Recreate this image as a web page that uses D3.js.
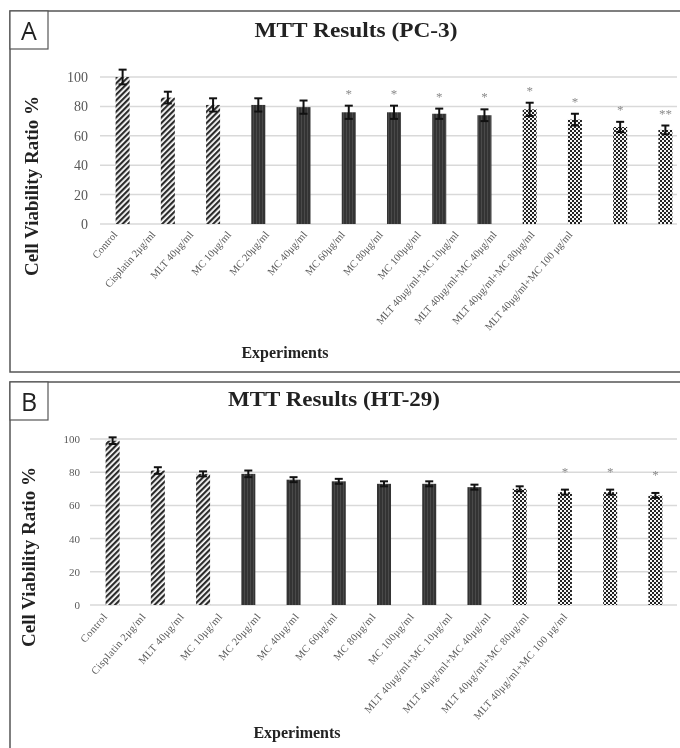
<!DOCTYPE html>
<html><head><meta charset="utf-8">
<script src="https://cdn.jsdelivr.net/npm/d3@7"></script>
<style>
body{margin:0;background:#fff;}
svg{display:block;will-change:transform;}
</style></head>
<body>
<svg id="chart" width="680" height="748"></svg>
<script>
// ---------- data ----------
const categoriesA = ["Control","Cisplatin 2μg/ml","MLT 40μg/ml","MC 10μg/ml","MC 20μg/ml","MC 40μg/ml","MC 60μg/ml","MC 80μg/ml","MC 100μg/ml","MLT 40μg/ml+MC 10μg/ml","MLT 40μg/ml+MC 40μg/ml","MLT 40μg/ml+MC 80μg/ml","MLT 40μg/ml+MC 100 μg/ml"];
const valuesA = [100, 86, 81, 81, 79.5, 76, 76, 75, 74, 78, 71, 66, 64];
const errorsA = [5, 4, 4.5, 4.5, 4.5, 4.5, 4.5, 3.5, 4, 4.5, 4, 3.5, 3];
const starsA = ["", "", "", "", "", "*", "*", "*", "*", "*", "*", "*", "**"];

const categoriesB = ["Control","Cisplatin 2μg/ml","MLT 40μg/ml","MC 10μg/ml","MC 20μg/ml","MC 40μg/ml","MC 60μg/ml","MC 80μg/ml","MC 100μg/ml","MLT 40μg/ml+MC 10μg/ml","MLT 40μg/ml+MC 40μg/ml","MLT 40μg/ml+MC 80μg/ml","MLT 40μg/ml+MC 100 μg/ml"];
const valuesB = [99, 81, 79, 79, 75.5, 74.5, 73, 73, 71, 70, 68, 68, 66];
const errorsB = [2, 2, 1.5, 2, 1.5, 1.5, 1.5, 1.5, 1.5, 1.5, 1.5, 1.5, 1.5];
const starsB = ["", "", "", "", "", "", "", "", "", "", "*", "*", "*"];

const yTicks = [0, 20, 40, 60, 80, 100];

// ---------- drawing ----------
const svg = d3.select("#chart");
const defs = svg.append("defs");

const ph = defs.append("pattern").attr("id","hatch").attr("patternUnits","userSpaceOnUse")
  .attr("width",4).attr("height",4).attr("patternTransform","rotate(45)");
ph.append("rect").attr("width",4).attr("height",4).attr("fill","#fff");
ph.append("rect").attr("width",2.2).attr("height",4).attr("fill","#2b2b2b");

const pd = defs.append("pattern").attr("id","dark").attr("patternUnits","userSpaceOnUse")
  .attr("width",3).attr("height",3);
pd.append("rect").attr("width",3).attr("height",3).attr("fill","#333");
pd.append("rect").attr("x",1).attr("width",1).attr("height",3).attr("fill","#4a4a4a");

const pc = defs.append("pattern").attr("id","check").attr("patternUnits","userSpaceOnUse")
  .attr("width",4).attr("height",4);
pc.append("rect").attr("width",4).attr("height",4).attr("fill","#f4f4f4");
pc.append("rect").attr("width",2).attr("height",2).attr("fill","#222");
pc.append("rect").attr("x",2).attr("y",2).attr("width",2).attr("height",2).attr("fill","#222");

function patternFor(i){ return i < 3 ? "url(#hatch)" : (i < 9 ? "url(#dark)" : "url(#check)"); }

function panel(cfg){
  const g = svg.append("g");
  g.append("rect").attr("x",cfg.frame[0]).attr("y",cfg.frame[1])
    .attr("width",cfg.frame[2]).attr("height",cfg.frame[3])
    .attr("fill","none").attr("stroke","#555").attr("stroke-width",1.5);
  g.append("rect").attr("x",cfg.frame[0]).attr("y",cfg.frame[1]).attr("width",38).attr("height",38)
    .attr("fill","#fff").attr("stroke","#555").attr("stroke-width",1.2);
  g.append("text").attr("x",cfg.frame[0]+19).attr("y",cfg.frame[1]+29)
    .attr("text-anchor","middle").attr("font-family","'Open Sans', 'DejaVu Sans', sans-serif")
    .attr("font-size",25).attr("fill","#222").text(cfg.letter);
  g.append("text").attr("x",cfg.titleX).attr("y",cfg.titleY).attr("text-anchor","middle")
    .attr("font-family","'Liberation Serif', serif").attr("font-weight","bold")
    .attr("font-size",20).attr("textLength",cfg.titleLen).attr("lengthAdjust","spacingAndGlyphs")
    .attr("fill","#222").text(cfg.title);

  const x = d3.scaleBand().domain(cfg.cats).range(cfg.xRange).paddingInner(0.69).paddingOuter(0.345);
  const xl = d3.scalePoint().domain(cfg.cats).range(cfg.labRange);
  const y = d3.scaleLinear().domain([0,100]).range(cfg.yRange);

  g.append("g").selectAll("line").data(yTicks).join("line")
    .attr("x1",cfg.gridX[0]).attr("x2",cfg.gridX[1])
    .attr("y1",d=>y(d)).attr("y2",d=>y(d))
    .attr("stroke","#d9d9d9").attr("stroke-width",1.5);

  const ya = g.append("g").attr("transform",`translate(${cfg.yLabelX},0)`)
    .call(d3.axisLeft(y).tickValues(yTicks).tickSize(0).tickPadding(0));
  ya.select(".domain").remove();
  ya.selectAll("text").attr("font-family","'Liberation Serif', serif")
    .attr("font-size",cfg.tickFont).attr("fill","#595959");

  g.append("g").selectAll("rect").data(cfg.vals).join("rect")
    .attr("x",(d,i)=>x(cfg.cats[i])).attr("width",x.bandwidth())
    .attr("y",d=>y(d)).attr("height",d=>y(0)-y(d))
    .attr("fill",(d,i)=>patternFor(i));

  const eb = g.append("g").attr("stroke","#111").attr("stroke-width",2);
  cfg.vals.forEach((v,i)=>{
    const cx = x(cfg.cats[i]) + x.bandwidth()/2;
    const e = cfg.errs[i];
    eb.append("line").attr("x1",cx).attr("x2",cx).attr("y1",y(v+e)).attr("y2",y(v-e));
    eb.append("line").attr("x1",cx-4).attr("x2",cx+4).attr("y1",y(v+e)).attr("y2",y(v+e));
    eb.append("line").attr("x1",cx-4).attr("x2",cx+4).attr("y1",y(v-e)).attr("y2",y(v-e));
  });

  g.append("g").selectAll("text").data(cfg.stars).join("text")
    .attr("x",(d,i)=>x(cfg.cats[i]) + x.bandwidth()/2)
    .attr("y",(d,i)=>y(cfg.vals[i]+cfg.errs[i]) - cfg.starOff)
    .attr("text-anchor","middle").attr("font-family","'Liberation Serif', serif")
    .attr("font-size",13).attr("fill","#8a8a8a").text(d=>d);

  g.append("g").selectAll("text").data(cfg.cats).join("text")
    .attr("transform",d=>`translate(${xl(d)},${y(0)+cfg.xLabOff}) rotate(-49)`)
    .attr("text-anchor","end").attr("font-family","'Liberation Serif', serif")
    .attr("font-size",cfg.xFont).attr("letter-spacing",cfg.xSpacing).attr("fill","#595959").text(d=>d);

  g.append("text").attr("transform",`translate(${cfg.yTitle[0]},${cfg.yTitle[1]}) rotate(-90)`)
    .attr("text-anchor","middle").attr("font-family","'Liberation Serif', serif").attr("font-weight","bold")
    .attr("font-size",19).attr("fill","#222").text("Cell Viability Ratio %");
  g.append("text").attr("x",cfg.xTitle[0]).attr("y",cfg.xTitle[1])
    .attr("text-anchor","middle").attr("font-family","'Liberation Serif', serif").attr("font-weight","bold")
    .attr("font-size",16).attr("fill","#222").text("Experiments");
}

panel({letter:"A", title:"MTT Results (PC-3)", titleX:356, titleY:37, titleLen:203,
  frame:[10,11,680,361], cats:categoriesA, vals:valuesA, errs:errorsA, stars:starsA,
  xRange:[100,688], labRange:[118,573], yRange:[224,77], gridX:[100,677], yLabelX:88, tickFont:14,
  starOff:8, xLabOff:11, xFont:10.5, xSpacing:0, yTitle:[38,186], xTitle:[285,358]});

panel({letter:"B", title:"MTT Results (HT-29)", titleX:334, titleY:406, titleLen:212,
  frame:[10,382,680,380], cats:categoriesB, vals:valuesB, errs:errorsB, stars:starsB,
  xRange:[90,678], labRange:[108,568], yRange:[605,439], gridX:[90,677], yLabelX:80, tickFont:11,
  starOff:14, xLabOff:12, xFont:10.5, xSpacing:0.4, yTitle:[35,557], xTitle:[297,738]});
</script>
</body></html>
